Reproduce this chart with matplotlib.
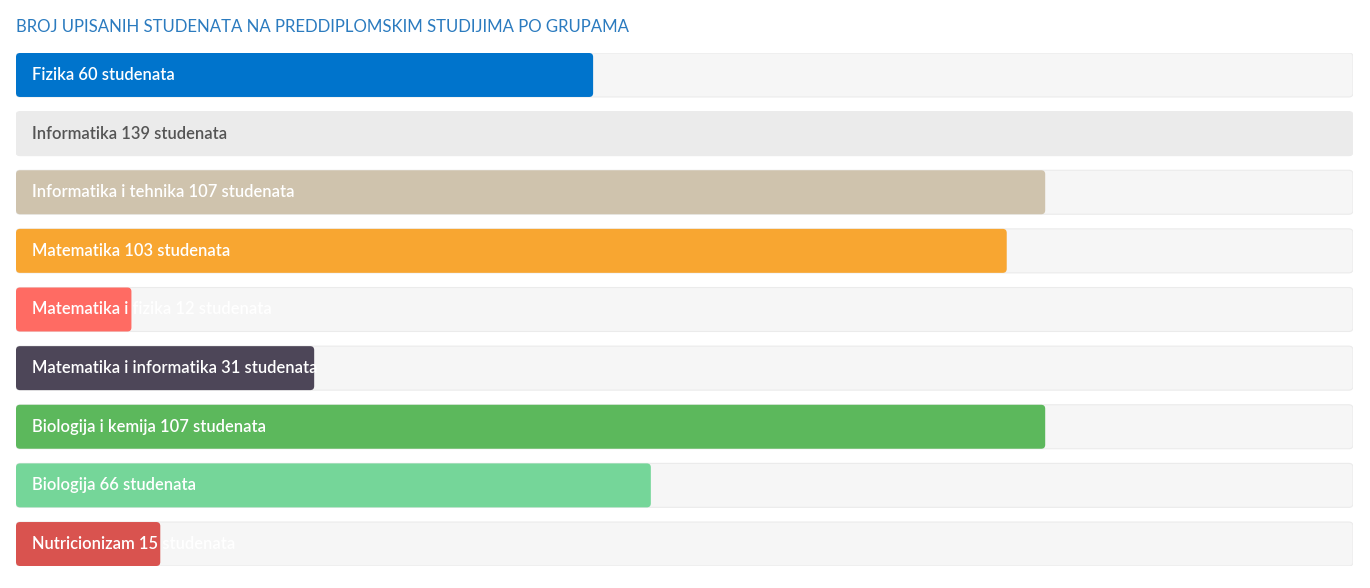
import matplotlib
matplotlib.use("Agg")
import matplotlib.pyplot as plt
from matplotlib.patches import FancyBboxPatch

title = "BROJ UPISANIH STUDENATA NA PREDDIPLOMSKIM STUDIJIMA PO GRUPAMA"
categories = ["Fizika", "Informatika", "Informatika i tehnika", "Matematika",
              "Matematika i fizika", "Matematika i informatika", "Biologija i kemija",
              "Biologija", "Nutricionizam"]
values = [60, 139, 107, 103, 12, 31, 107, 66, 15]
colors = ["#0074cc", "#ebebeb", "#cfc3ad", "#f8a631", "#ff6b63",
          "#4d4658", "#5cb85c", "#75d699", "#d9534f"]
text_colors = ["white", "#555555", "white", "white", "white",
               "white", "white", "white", "white"]
max_value = 139

W, H = 1370, 588
fig = plt.figure(figsize=(W / 100, H / 100), dpi=100)
fig.patch.set_facecolor("white")

left, right = 16, 1353
top, bottom = 53, 566
ax = fig.add_axes([left / W, 1 - bottom / H, (right - left) / W, (bottom - top) / H])
ax.set_xlim(0, max_value)
n = len(values)
bh = 0.75
ax.set_ylim(n - 1 + bh / 2, -bh / 2)
ax.axis("off")

px_x = (right - left) / max_value          # pixels per x unit
px_y = (bottom - top) / (n - 1 + bh)       # pixels per y unit
aspect = px_x / px_y
r = 4 / px_x

for i, (cat, v, c, tc) in enumerate(zip(categories, values, colors, text_colors)):
    track = FancyBboxPatch((0, i - bh / 2), max_value, bh,
                           boxstyle=f"round,pad=0,rounding_size={r}",
                           mutation_aspect=aspect, facecolor="#f6f6f6",
                           edgecolor="#ebebeb", linewidth=0.8, zorder=1)
    ax.add_patch(track)
    bar = FancyBboxPatch((0, i - bh / 2), v, bh,
                         boxstyle=f"round,pad=0,rounding_size={r}",
                         mutation_aspect=aspect, facecolor=c,
                         edgecolor="none", zorder=2)
    ax.add_patch(bar)
    ax.text(16 / px_x, i, f"{cat} {v} studenata", color=tc, fontsize=11.9,
            weight="semibold", family=["Lato", "DejaVu Sans"],
            va="center", ha="left", zorder=3)

fig.text(16 / W, 1 - 27 / H, title, color="#2b7bbf", fontsize=12.1,
         family=["Lato", "DejaVu Sans"], va="center", ha="left")

fig.savefig("out.png", dpi=100, facecolor="white")
